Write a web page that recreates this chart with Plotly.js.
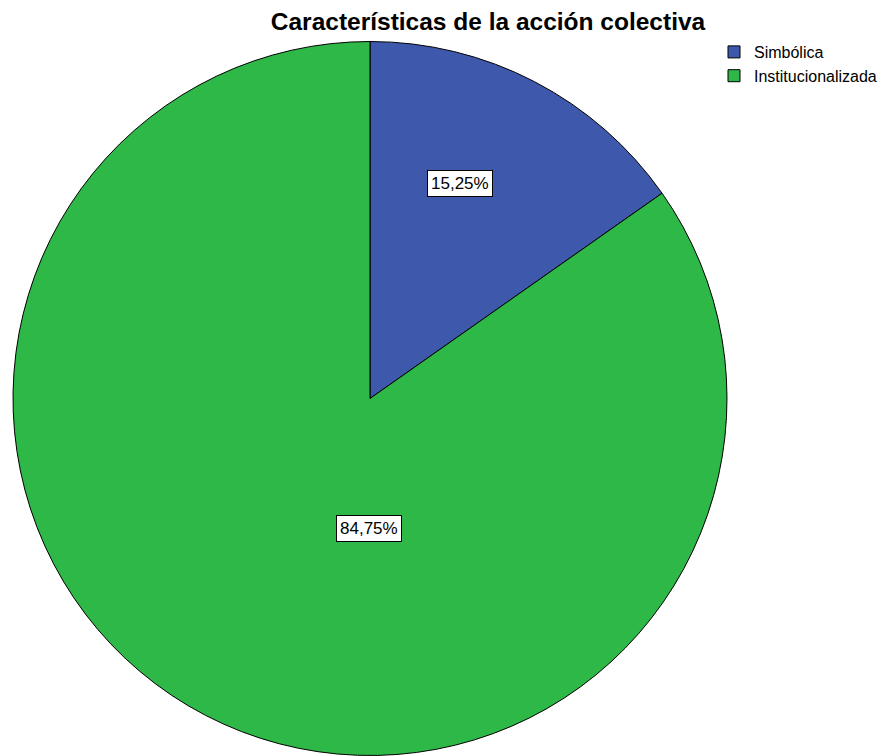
<!DOCTYPE html>
<html>
<head>
<meta charset="utf-8">
<script src="https://cdn.plot.ly/plotly-3.0.1.min.js"></script>
<style>html,body{margin:0;padding:0;background:#fff;}#chart{width:886px;height:756px;}</style>
</head>
<body>
<div id="chart"></div>
<script>
// ---- data ----
const categories = ["Simbólica", "Institucionalizada"];
const percentages = [15.25, 84.75];
const sliceColors = ["#3E58AC", "#2EB848"];
const chartTitle = "Características de la acción colectiva";

// ---- layout constants ----
const W = 886, H = 756;
const cx = 370, cy = 398.5, R = 357;
// label placement (polar, degrees clockwise from 12 o'clock, radius fraction)
const labelPolar = [{ang: 22.8, r: 0.653}, {ang: 180.5, r: 0.364}];

const domX = [(cx - R) / W, (cx + R) / W];
const domY = [1 - (cy + R) / H, 1 - (cy - R) / H];

const fmt = v => v.toFixed(2).replace('.', ',') + '%';

const annotations = percentages.map((v, i) => {
  const a = labelPolar[i].ang * Math.PI / 180;
  const px = cx + R * labelPolar[i].r * Math.sin(a);
  const py = cy - R * labelPolar[i].r * Math.cos(a);
  return {
    xref: 'paper', yref: 'paper', x: px / W, y: 1 - py / H,
    text: fmt(v), showarrow: false,
    font: {family: 'Liberation Sans, Arial, sans-serif', size: 17, color: '#000'},
    bgcolor: '#ffffff', bordercolor: '#000000', borderwidth: 1, borderpad: 3,
    xanchor: 'center', yanchor: 'middle'
  };
});

const trace = {
  type: 'pie',
  labels: categories,
  values: percentages,
  sort: false,
  direction: 'clockwise',
  rotation: 0,
  textinfo: 'none',
  hoverinfo: 'label+percent',
  marker: {colors: sliceColors, line: {color: '#000000', width: 1}},
  domain: {x: domX, y: domY}
};

const layout = {
  width: W, height: H,
  margin: {l: 0, r: 0, t: 0, b: 0},
  paper_bgcolor: '#ffffff',
  title: {
    text: '<b>' + chartTitle + '</b>',
    x: 488 / W, xanchor: 'center', xref: 'paper',
    y: 1 - 21 / H, yanchor: 'middle', yref: 'paper',
    font: {family: 'Liberation Sans, Arial, sans-serif', size: 24.5, color: '#000'}
  },
  showlegend: true,
  legend: {
    x: 714 / W, xanchor: 'left', y: 1 - 35 / H, yanchor: 'top',
    font: {family: 'Liberation Sans, Arial, sans-serif', size: 16, color: '#000'},
    bgcolor: 'rgba(0,0,0,0)', tracegroupgap: 0, itemwidth: 30
  },
  annotations: annotations
};

Plotly.newPlot('chart', [trace], layout, {displayModeBar: false, staticPlot: true});
</script>
</body>
</html>
